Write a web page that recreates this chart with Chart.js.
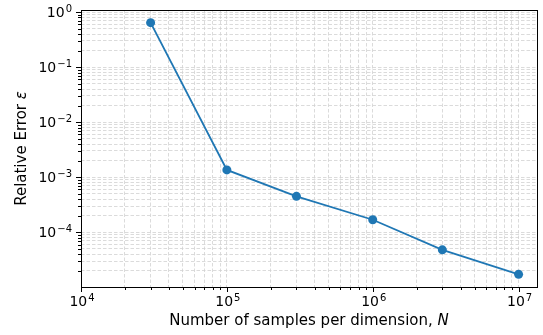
<!DOCTYPE html>
<html>
<head>
<meta charset="utf-8">
<script src="https://cdn.jsdelivr.net/npm/chart.js@4"></script>
<style>
  html, body { margin: 0; padding: 0; background: #fff; }
  #wrap { width: 543px; height: 335px; position: relative; }
</style>
</head>
<body>
<div id="wrap"><canvas id="errChart"></canvas></div>
<script>
// Data
const nSamples = [3e4, 1e5, 3e5, 1e6, 3e6, 1e7];
const relError = [0.645, 1.36e-3, 4.5e-4, 1.69e-4, 4.8e-5, 1.72e-5];

// Axis ranges (matplotlib style limits)
const xMin = 1e4, xMax = 1.337e7;
const yMin = 1.014e-5, yMax = 1.094;

// Tick values: major decades plus minor 2..9 steps
const xTickValues = [
  1e4, 2e4, 3e4, 4e4, 5e4, 6e4, 7e4, 8e4, 9e4,
  1e5, 2e5, 3e5, 4e5, 5e5, 6e5, 7e5, 8e5, 9e5,
  1e6, 2e6, 3e6, 4e6, 5e6, 6e6, 7e6, 8e6, 9e6,
  1e7
];
const yTickValues = [
  2e-5, 3e-5, 4e-5, 5e-5, 6e-5, 7e-5, 8e-5, 9e-5,
  1e-4, 2e-4, 3e-4, 4e-4, 5e-4, 6e-4, 7e-4, 8e-4, 9e-4,
  1e-3, 2e-3, 3e-3, 4e-3, 5e-3, 6e-3, 7e-3, 8e-3, 9e-3,
  1e-2, 2e-2, 3e-2, 4e-2, 5e-2, 6e-2, 7e-2, 8e-2, 9e-2,
  1e-1, 2e-1, 3e-1, 4e-1, 5e-1, 6e-1, 7e-1, 8e-1, 9e-1,
  1e0
];

const FONT = '"DejaVu Sans", sans-serif';
const BASE_FONT = '14px ' + FONT;
const EXP_FONT = '10px ' + FONT;
const TITLE_FONT = '15px ' + FONT;
const TITLE_ITALIC = 'italic 15px ' + FONT;

function isDecade(v) {
  const l = Math.log10(v);
  return Math.abs(l - Math.round(l)) < 1e-9;
}

function expText(v) {
  return String(Math.round(Math.log10(v))).replace('-', '\u2212');
}

// Draw "10" with a raised exponent; align is 'center' or 'right'
function drawPow10(ctx, v, x, baseline, align) {
  const ex = expText(v);
  ctx.font = BASE_FONT;
  const wb = ctx.measureText('10').width;
  ctx.font = EXP_FONT;
  const we = ctx.measureText(ex).width;
  const total = wb + 1 + we;
  const left = align === 'center' ? x - total / 2 : x - total;
  ctx.textAlign = 'left';
  ctx.textBaseline = 'alphabetic';
  ctx.font = BASE_FONT;
  ctx.fillText('10', left, baseline);
  ctx.font = EXP_FONT;
  ctx.fillText(ex, left + wb + 1, baseline - 5);
}

// Frame, tick marks, tick labels and axis titles, drawn like matplotlib
const framePlugin = {
  id: 'frame',
  afterDraw(chart) {
    const ctx = chart.ctx;
    const area = chart.chartArea;
    const xs = chart.scales.x, ys = chart.scales.y;
    ctx.save();
    ctx.strokeStyle = '#000';
    ctx.lineWidth = 1;
    ctx.strokeRect(Math.round(area.left) + 0.5, Math.round(area.top) + 0.5,
      Math.round(area.right - area.left), Math.round(area.bottom - area.top));

    // tick marks outside the axes
    ctx.beginPath();
    xs.ticks.forEach(t => {
      const px = Math.round(xs.getPixelForValue(t.value)) + 0.5;
      const len = isDecade(t.value) ? 5 : 3;
      ctx.moveTo(px, area.bottom);
      ctx.lineTo(px, area.bottom + len);
    });
    ys.ticks.forEach(t => {
      const py = Math.round(ys.getPixelForValue(t.value)) + 0.5;
      const len = isDecade(t.value) ? 5 : 3;
      ctx.moveTo(area.left, py);
      ctx.lineTo(area.left - len, py);
    });
    ctx.stroke();

    // tick labels at the decades
    ctx.fillStyle = '#000';
    xs.ticks.forEach(t => {
      if (!isDecade(t.value)) return;
      drawPow10(ctx, t.value, xs.getPixelForValue(t.value) + 1, area.bottom + 19, 'center');
    });
    ys.ticks.forEach(t => {
      if (!isDecade(t.value)) return;
      drawPow10(ctx, t.value, area.left - 9, ys.getPixelForValue(t.value) + 5, 'right');
    });

    // axis titles with italic symbols
    ctx.textBaseline = 'middle';
    ctx.textAlign = 'left';
    const xa = 'Number of samples per dimension, ', xb = 'N';
    ctx.font = TITLE_FONT;
    const wa = ctx.measureText(xa).width;
    ctx.font = TITLE_ITALIC;
    const wb = ctx.measureText(xb).width;
    const sx = (area.left + area.right) / 2 - (wa + wb) / 2;
    ctx.font = TITLE_FONT;
    ctx.fillText(xa, sx, 321);
    ctx.font = TITLE_ITALIC;
    ctx.fillText(xb, sx + wa, 321);

    const ya = 'Relative Error ', yb = 'ε';
    ctx.font = TITLE_FONT;
    const ha = ctx.measureText(ya).width;
    ctx.font = TITLE_ITALIC;
    const hb = ctx.measureText(yb).width;
    ctx.translate(22, (area.top + area.bottom) / 2);
    ctx.rotate(-Math.PI / 2);
    const sy = -(ha + hb) / 2;
    ctx.font = TITLE_FONT;
    ctx.fillText(ya, sy, 0);
    ctx.font = TITLE_ITALIC;
    ctx.fillText(yb, sy + ha, 0);
    ctx.restore();
  }
};

const points = nSamples.map((n, i) => ({ x: n, y: relError[i] }));

new Chart(document.getElementById('errChart'), {
  type: 'line',
  data: {
    datasets: [{
      data: points,
      borderColor: '#1f77b4',
      backgroundColor: '#1f77b4',
      borderWidth: 1.8,
      pointRadius: 4.5,
      pointBorderWidth: 0,
      tension: 0
    }]
  },
  options: {
    responsive: true,
    maintainAspectRatio: false,
    animation: false,
    layout: { padding: { left: 0, right: 6, top: 10, bottom: 0 } },
    plugins: {
      legend: { display: false },
      tooltip: { enabled: false }
    },
    scales: {
      x: {
        type: 'logarithmic',
        min: xMin,
        max: xMax,
        afterBuildTicks: scale => { scale.ticks = xTickValues.map(v => ({ value: v })); },
        afterFit: scale => { scale.height = 48; },
        grid: { color: '#d2d2d2', lineWidth: 0.8, drawTicks: false },
        border: { display: false, dash: [3.5, 2] },
        ticks: { display: false, autoSkip: false }
      },
      y: {
        type: 'logarithmic',
        min: yMin,
        max: yMax,
        afterBuildTicks: scale => { scale.ticks = yTickValues.map(v => ({ value: v })); },
        afterFit: scale => { scale.width = 81; },
        grid: { color: '#d2d2d2', lineWidth: 0.8, drawTicks: false },
        border: { display: false, dash: [3.5, 2] },
        ticks: { display: false, autoSkip: false }
      }
    }
  },
  plugins: [framePlugin]
});
</script>
</body>
</html>
